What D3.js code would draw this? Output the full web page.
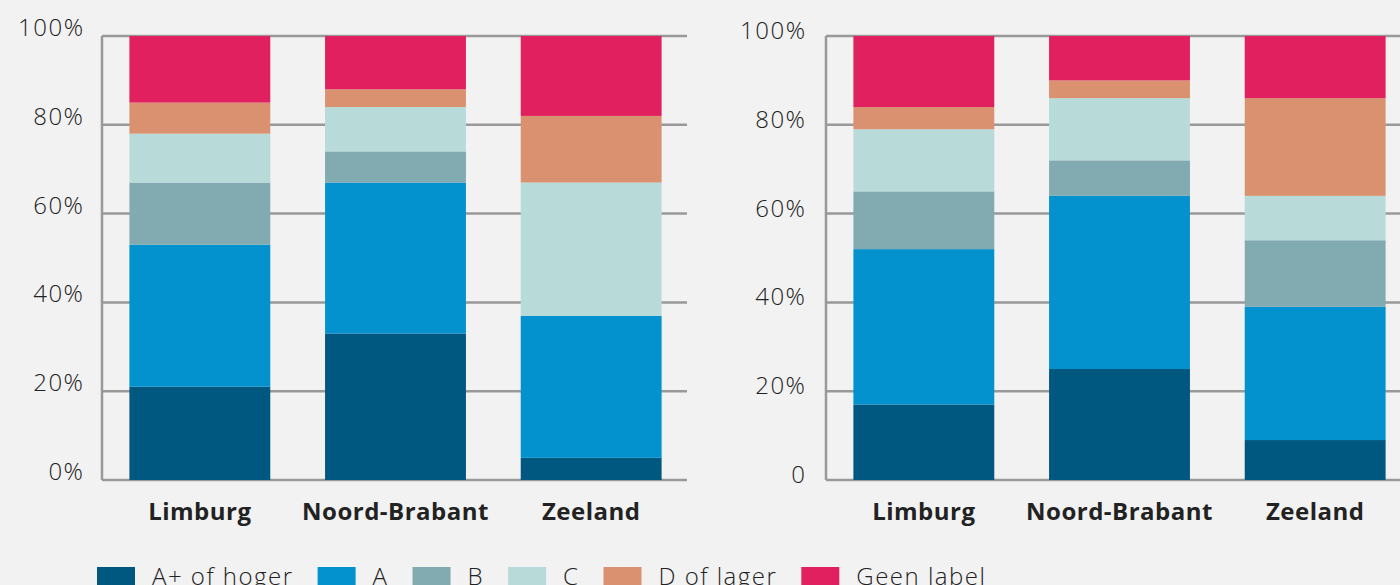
<!DOCTYPE html>
<html>
<head>
<meta charset="utf-8">
<script src="https://cdn.jsdelivr.net/npm/d3@7"></script>
<style>
  html, body { margin: 0; padding: 0; background: #f2f2f2; }
  svg { display: block; }
</style>
</head>
<body>
<svg id="chart" width="1400" height="585"></svg>
<script>
// ---------- data ----------
const categories = ["Limburg", "Noord-Brabant", "Zeeland"];
const seriesNames = ["A+ of hoger", "A", "B", "C", "D of lager", "Geen label"];
const seriesColors = ["#00577f", "#0392ce", "#81aab1", "#b8dbd9", "#d9916f", "#e1205f"];

// left chart (per series, per category)
const leftAplus = [21, 33, 5];
const leftA     = [32, 34, 32];
const leftB     = [14, 7, 0];
const leftC     = [11, 10, 30];
const leftD     = [7, 4, 15];
const leftGeen  = [15, 12, 18];

// right chart
const rightAplus = [17, 25, 9];
const rightA     = [35, 39, 30];
const rightB     = [13, 8, 15];
const rightC     = [14, 14, 10];
const rightD     = [5, 4, 22];
const rightGeen  = [16, 10, 14];

const tickValues = [0, 20, 40, 60, 80, 100];
const leftTickLabels  = ["0%", "20%", "40%", "60%", "80%", "100%"];
const rightTickLabels = ["0", "20%", "40%", "60%", "80%", "100%"];

// ---------- drawing ----------
const svg = d3.select("#chart");
const plotTop = 36, plotBottom = 480;

function buildRows(arrs) {
  return categories.map((c, i) => {
    const r = { cat: c };
    seriesNames.forEach((s, j) => r[s] = arrs[j][i]);
    return r;
  });
}

function drawChart(opts) {
  const g = svg.append("g");
  const x = d3.scaleBand().domain(categories)
    .range([opts.x0, opts.x0 + 587]).paddingInner(0.28).paddingOuter(0.14);
  const y = d3.scaleLinear().domain([0, 100]).range([plotBottom, plotTop]);

  // grid lines
  g.selectAll("line.grid").data(tickValues).join("line")
    .attr("class", "grid")
    .attr("x1", opts.x0).attr("x2", opts.x0 + 585)
    .attr("y1", d => y(d)).attr("y2", d => y(d))
    .attr("stroke", "#999").attr("stroke-width", 2.5);
  // y axis line
  g.append("line")
    .attr("x1", opts.x0).attr("x2", opts.x0)
    .attr("y1", y(100)).attr("y2", y(0))
    .attr("stroke", "#999").attr("stroke-width", 2.5);

  // tick labels
  g.selectAll("text.tick").data(tickValues).join("text")
    .attr("class", "tick")
    .attr("x", opts.x0 - opts.labelGap + 1.5)
    .attr("y", d => y(d) + opts.labelDy)
    .attr("text-anchor", "end")
    .attr("font-family", "'Open Sans', sans-serif")
    .attr("font-weight", 300)
    .attr("font-size", 24)
    .attr("letter-spacing", 1.5)
    .attr("fill", "#222")
    .text((d, i) => opts.tickLabels[i]);

  // stacked bars
  const rows = buildRows(opts.data);
  const stacked = d3.stack().keys(seriesNames)(rows);
  g.selectAll("g.series").data(stacked).join("g")
    .attr("class", "series")
    .attr("fill", (d, i) => seriesColors[i])
    .selectAll("rect").data(d => d).join("rect")
    .attr("x", d => x(d.data.cat))
    .attr("width", x.bandwidth())
    .attr("y", d => y(d[1]))
    .attr("height", d => y(d[0]) - y(d[1]));

  // category labels
  g.selectAll("text.cat").data(categories).join("text")
    .attr("class", "cat")
    .attr("x", d => x(d) + x.bandwidth() / 2)
    .attr("y", 520)
    .attr("text-anchor", "middle")
    .attr("font-family", "'Open Sans', sans-serif")
    .attr("font-weight", 700)
    .attr("font-size", 24)
    .attr("letter-spacing", 0.5)
    .attr("fill", "#222")
    .text(d => d);
}

drawChart({
  x0: 102, labelGap: 19, labelDy: 0, tickLabels: leftTickLabels,
  data: [leftAplus, leftA, leftB, leftC, leftD, leftGeen]
});
drawChart({
  x0: 826, labelGap: 21, labelDy: 3, tickLabels: rightTickLabels,
  data: [rightAplus, rightA, rightB, rightC, rightD, rightGeen]
});

// legend
const legend = svg.append("g");
let lx = 97;
seriesNames.forEach((s, i) => {
  legend.append("rect")
    .attr("x", lx).attr("y", 567).attr("width", 38).attr("height", 24)
    .attr("fill", seriesColors[i]);
  const t = legend.append("text")
    .attr("x", lx + 55).attr("y", 585)
    .attr("font-family", "'Open Sans', sans-serif")
    .attr("font-weight", 300)
    .attr("font-size", 24)
    .attr("letter-spacing", 1.5)
    .attr("fill", "#222")
    .text(s);
  lx = lx + 55 + t.node().getComputedTextLength() + 24;
});
</script>
</body>
</html>
